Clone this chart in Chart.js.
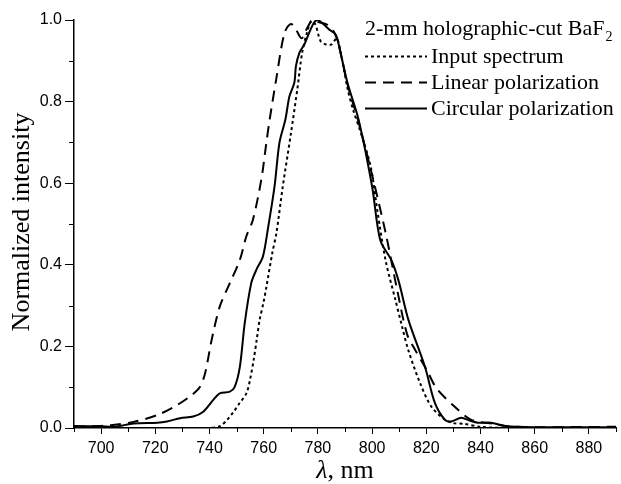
<!DOCTYPE html>
<html>
<head>
<meta charset="utf-8">
<script src="https://cdn.jsdelivr.net/npm/chart.js@4.4.1/dist/chart.umd.min.js"></script>
<style>
  html, body { margin: 0; padding: 0; background: #fff; }
  #wrap { width: 621px; height: 484px; }
</style>
</head>
<body>
<div id="wrap"><canvas id="spectra" width="621" height="484"></canvas></div>
<script>
// wavelength (nm) / normalized intensity
const inputNm = [690, 700, 720, 740, 744, 746.5, 748.6, 751, 753.7, 755, 756.3, 757.5, 758.5, 760, 761, 763.2, 764.7, 767, 770, 772.4, 774.2, 776, 777.5, 779, 781, 783, 785, 787, 789, 791, 793, 796, 799.5, 802, 805, 808.6, 811, 813.4, 817.7, 821.9, 826.9, 830, 834, 840, 850, 890];
const inputVal = [0, 0, 0, 0, 0.005, 0.02, 0.037, 0.06, 0.086, 0.12, 0.167, 0.22, 0.265, 0.31, 0.346, 0.43, 0.478, 0.59, 0.72, 0.83, 0.92, 0.97, 0.997, 0.99, 0.948, 0.94, 0.94, 0.955, 0.9, 0.83, 0.78, 0.72, 0.64, 0.53, 0.41, 0.314, 0.25, 0.19, 0.11, 0.052, 0.02, 0.012, 0.01, 0.003, 0, 0];

const linearNm = [690, 700, 703.6, 712, 720.8, 728, 733.5, 736.5, 738.4, 740.8, 743.8, 747.5, 751.2, 753.6, 756, 759.1, 761, 762.2, 764.6, 767.7, 770.1, 772, 774, 776, 778, 780, 783, 786, 788, 791, 795, 800, 805, 809.2, 812.9, 816, 820.2, 823.8, 830.5, 836.6, 845, 850, 860, 890];
const linearVal = [0.003, 0.005, 0.007, 0.015, 0.032, 0.056, 0.081, 0.101, 0.135, 0.216, 0.298, 0.355, 0.412, 0.47, 0.51, 0.608, 0.7, 0.756, 0.854, 0.969, 0.99, 0.975, 0.955, 0.98, 1.0, 0.995, 0.99, 0.97, 0.93, 0.84, 0.75, 0.62, 0.478, 0.34, 0.23, 0.19, 0.142, 0.097, 0.052, 0.02, 0.01, 0.004, 0.002, 0.003];

const circularNm = [690, 700, 705, 712, 720.8, 724.3, 729.2, 734, 737.7, 741.4, 743.8, 747.5, 749.3, 751.2, 753, 755.4, 757.3, 759.7, 761.5, 764, 765.8, 768, 769.5, 771.3, 771.9, 773.2, 775, 776.8, 778.6, 780, 782, 784.1, 786.6, 787.8, 790.9, 795, 800, 803, 807.2, 809.8, 813.4, 819.5, 823.2, 826.9, 829.2, 832.9, 836, 839, 843.9, 848.9, 860, 890];
const circularVal = [0.005, 0.004, 0.003, 0.011, 0.013, 0.016, 0.024, 0.028, 0.04, 0.069, 0.085, 0.089, 0.101, 0.15, 0.257, 0.355, 0.388, 0.42, 0.486, 0.592, 0.699, 0.756, 0.813, 0.846, 0.887, 0.92, 0.94, 0.969, 0.994, 1.0, 0.99, 0.977, 0.964, 0.936, 0.846, 0.756, 0.592, 0.461, 0.41, 0.36, 0.265, 0.15, 0.061, 0.02, 0.016, 0.025, 0.018, 0.013, 0.013, 0.005, 0.002, 0.002];

const seriesNames = ["Input spectrum", "Linear polarization", "Circular polarization"];
const legendTitle = "2-mm holographic-cut BaF";
const xTicks = [700, 720, 740, 760, 780, 800, 820, 840, 860, 880];

const SERIF = "'Liberation Serif', 'DejaVu Serif', serif";
const SANS = "'Liberation Sans', Arial, sans-serif";

function toPoints(xs, ys) {
  return xs.map((x, i) => ({ x, y: ys[i] }));
}

const isMajorX = (v) => xTicks.includes(v);
const isMajorY = (v) => Math.round(v * 10) % 2 === 0;

const DASHES = [[3, 3], [11, 7], []];

// minor ticks (shorter), drawn next to the library's major ticks
const minorTicks = {
  id: "minorTicks",
  afterDraw(chart) {
    const { ctx, chartArea, scales } = chart;
    ctx.save();
    ctx.strokeStyle = "#000";
    ctx.lineWidth = 1;
    scales.x.ticks.forEach((t) => {
      if (isMajorX(t.value)) return;
      const px = Math.round(scales.x.getPixelForValue(t.value)) + 0.5;
      ctx.beginPath();
      ctx.moveTo(px, chartArea.bottom);
      ctx.lineTo(px, chartArea.bottom + 4);
      ctx.stroke();
    });
    scales.y.ticks.forEach((t) => {
      if (isMajorY(t.value)) return;
      const py = Math.round(scales.y.getPixelForValue(t.value)) + 0.5;
      ctx.beginPath();
      ctx.moveTo(chartArea.left - 5, py);
      ctx.lineTo(chartArea.left, py);
      ctx.stroke();
    });
    ctx.restore();
  },
};

// axis titles (serif, italic lambda)
const axisTitles = {
  id: "axisTitles",
  afterDraw(chart) {
    const { ctx, chartArea } = chart;
    ctx.save();
    ctx.fillStyle = "#000";
    ctx.font = `26px ${SERIF}`;
    ctx.textBaseline = "middle";
    ctx.textAlign = "center";
    ctx.translate(22, 222);
    ctx.rotate(-Math.PI / 2);
    ctx.fillText("Normalized intensity", 0, 0);
    ctx.restore();

    ctx.save();
    ctx.fillStyle = "#000";
    ctx.textBaseline = "alphabetic";
    const cx = (chartArea.left + chartArea.right) / 2;
    ctx.font = `italic 26px ${SERIF}`;
    const lam = "λ";
    const wl = ctx.measureText(lam).width;
    ctx.font = `26px ${SERIF}`;
    const rest = ", nm";
    const wr = ctx.measureText(rest).width;
    const x0 = cx - (wl + wr) / 2;
    ctx.font = `italic 26px ${SERIF}`;
    ctx.fillText(lam, x0, 478);
    ctx.font = `26px ${SERIF}`;
    ctx.fillText(rest, x0 + wl, 478);
    ctx.restore();
  },
};

const legendBox = {
  id: "legendBox",
  afterDraw(chart) {
    const { ctx } = chart;
    const lx = 365, tx = 431;
    ctx.save();
    ctx.fillStyle = "#000";
    ctx.textBaseline = "alphabetic";
    ctx.font = `22px ${SERIF}`;
    ctx.fillText(legendTitle, lx, 35);
    const w = ctx.measureText(legendTitle).width;
    ctx.font = `14px ${SERIF}`;
    ctx.fillText("2", lx + w + 1, 41);
    const rows = [63, 89, 115];
    chart.data.datasets.forEach((ds, i) => {
      const y = rows[i] - 6.5;
      ctx.strokeStyle = "#000";
      ctx.lineWidth = 2;
      ctx.setLineDash(ds.borderDash || []);
      ctx.beginPath();
      ctx.moveTo(lx, y);
      ctx.lineTo(427, y);
      ctx.stroke();
      ctx.setLineDash([]);
      ctx.font = `22px ${SERIF}`;
      ctx.fillText(ds.label, tx, rows[i]);
    });
    ctx.restore();
  },
};

const seriesXs = [inputNm, linearNm, circularNm];
const seriesYs = [inputVal, linearVal, circularVal];

new Chart(document.getElementById("spectra"), {
  type: "line",
  data: {
    datasets: seriesNames.map((name, i) => ({
      label: name,
      data: toPoints(seriesXs[i], seriesYs[i]),
      borderColor: "#000",
      borderWidth: 2,
      borderDash: DASHES[i],
      pointRadius: 0,
      tension: 0.3,
      fill: false,
    })),
  },
  options: {
    responsive: false,
    animation: false,
    devicePixelRatio: 1,
    layout: { padding: { top: 20, right: 1, left: 0, bottom: 0 } },
    plugins: { legend: { display: false }, tooltip: { enabled: false } },
    scales: {
      x: {
        type: "linear",
        min: 690,
        max: 890,
        afterFit: (s) => { s.height = 56; },
        ticks: {
          stepSize: 10,
          autoSkip: false,
          maxRotation: 0,
          padding: 5,
          color: "#000",
          font: { family: SANS, size: 16 },
          callback: (v) => (isMajorX(v) ? String(v) : ""),
        },
        grid: {
          drawOnChartArea: false,
          tickLength: 6,
          tickColor: (c) => (c.tick && isMajorX(c.tick.value) ? "#000" : "rgba(0,0,0,0)"),
        },
        border: { display: true, color: "#000", width: 1.5 },
      },
      y: {
        min: 0,
        max: 1,
        afterFit: (s) => { s.width = 74; },
        ticks: {
          stepSize: 0.1,
          autoSkip: false,
          padding: 3,
          color: "#000",
          font: { family: SANS, size: 16 },
          callback: (v) => (isMajorY(v) ? Number(v).toFixed(1) : ""),
        },
        grid: {
          drawOnChartArea: false,
          tickLength: 9,
          tickColor: (c) => (c.tick && isMajorY(c.tick.value) ? "#000" : "rgba(0,0,0,0)"),
        },
        border: { display: true, color: "#000", width: 1.5 },
      },
    },
  },
  plugins: [minorTicks, axisTitles, legendBox],
});
</script>
</body>
</html>
